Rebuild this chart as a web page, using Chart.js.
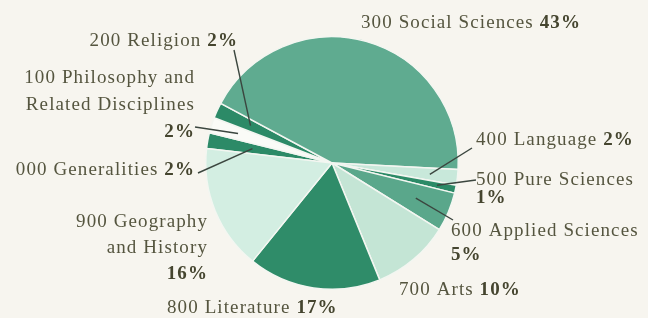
<!DOCTYPE html>
<html>
<head>
<meta charset="utf-8">
<script src="https://cdn.jsdelivr.net/npm/chart.js@4.4.1/dist/chart.umd.min.js"></script>
<style>
  html, body { margin: 0; padding: 0; background: #f7f5ef; }
  #wrap { width: 648px; height: 318px; }
</style>
</head>
<body>
<div id="wrap"><canvas id="pie"></canvas></div>
<script>
// ========== data ==========
const codes = ['000', '100', '200', '300', '400', '500', '600', '700', '800', '900']
const names = ['Generalities', 'Philosophy and Related Disciplines', 'Religion', 'Social Sciences',
  'Language', 'Pure Sciences', 'Applied Sciences', 'Arts', 'Literature', 'Geography and History']
const shares = [2, 2, 2, 43, 2, 1, 5, 10, 17, 16]

// ========== styles ==========
const dark = '#2c8a67'
const mid = '#5fab90'
const light = '#c8e8da'
const sliceColors = [dark, '#fafbf7', dark, mid, light, dark, '#5aa78b', '#c4e5d5', '#2f8c69', '#d3eee2']

// label placement: wrap = words per line (code counts as a word), own = percent on its own line
const labelLayout = [
  { x: 195, y: 175, align: 'right', wrap: [2], own: false, lh: 26, leader: [198, 173, 0.64] },
  { x: 195, y: 83, align: 'right', wrap: [3, 2], own: true, lh: 27, leader: [195, 127, 0.78] },
  { x: 238, y: 46, align: 'right', wrap: [2], own: false, lh: 26, leader: [234, 50, 0.71] },
  { x: 361, y: 28, align: 'left', wrap: [3], own: false, lh: 26 },
  { x: 476, y: 145, align: 'left', wrap: [2], own: false, lh: 26, leader: [472, 148, 0.78] },
  { x: 476, y: 185, align: 'left', wrap: [3], own: true, lh: 18, leader: [476, 180, 0.85] },
  { x: 451, y: 236, align: 'left', wrap: [3], own: true, lh: 24, leader: [453, 220, 0.72] },
  { x: 399, y: 295, align: 'left', wrap: [2], own: false, lh: 26 },
  { x: 167, y: 313, align: 'left', wrap: [2], own: false, lh: 26 },
  { x: 208, y: 227, align: 'right', wrap: [2, 2], own: true, lh: 26 }
]

const fontFamily = '"Liberation Serif", "DejaVu Serif", serif'
const fontSize = 19

const sliceLabels = {
  id: 'sliceLabels',
  afterDraw(chart) {
    const ctx = chart.ctx
    const arcs = chart.getDatasetMeta(0).data
    ctx.save()
    ctx.textBaseline = 'alphabetic'
    ctx.letterSpacing = '1.1px'
    labelLayout.forEach((lay, i) => {
      const words = [codes[i]].concat(names[i].split(' '))
      const lines = []
      let k = 0
      lay.wrap.forEach(n => {
        lines.push([{ t: words.slice(k, k + n).join(' '), b: false }])
        k += n
      })
      const pct = shares[i] + '%'
      if (lay.own) lines.push([{ t: pct, b: true }])
      else lines[lines.length - 1].push({ t: ' ' + pct, b: true })

      lines.forEach((runs, li) => {
        let total = 0
        runs.forEach(r => {
          ctx.font = (r.b ? 'bold ' : '') + fontSize + 'px ' + fontFamily
          r.w = ctx.measureText(r.t).width
          total += r.w
        })
        let x = lay.align === 'right' ? lay.x - total : lay.x
        const y = lay.y + li * lay.lh
        runs.forEach(r => {
          ctx.font = (r.b ? 'bold ' : '') + fontSize + 'px ' + fontFamily
          ctx.fillStyle = r.b ? '#45452f' : '#55553f'
          ctx.textAlign = 'left'
          ctx.fillText(r.t, x, y)
          x += r.w
        })
      })

      if (lay.leader) {
        const arc = arcs[i]
        const a = (arc.startAngle + arc.endAngle) / 2
        const r = arc.outerRadius * lay.leader[2]
        ctx.beginPath()
        ctx.moveTo(lay.leader[0], lay.leader[1])
        ctx.lineTo(arc.x + Math.cos(a) * r, arc.y + Math.sin(a) * r)
        ctx.strokeStyle = '#3b463f'
        ctx.lineWidth = 1.4
        ctx.stroke()
      }
    })
    ctx.restore()
  }
}

new Chart(document.getElementById('pie'), {
  type: 'pie',
  data: {
    labels: codes.map((c, i) => c + ' ' + names[i]),
    datasets: [{
      data: shares,
      backgroundColor: sliceColors,
      borderColor: '#f3f6f1',
      borderWidth: 1.5
    }]
  },
  options: {
    responsive: true,
    maintainAspectRatio: false,
    animation: false,
    rotation: -83.4,
    layout: { padding: { left: 205, right: 189, top: 36, bottom: 28 } },
    plugins: { legend: { display: false }, tooltip: { enabled: false } }
  },
  plugins: [sliceLabels]
})
</script>
</body>
</html>
